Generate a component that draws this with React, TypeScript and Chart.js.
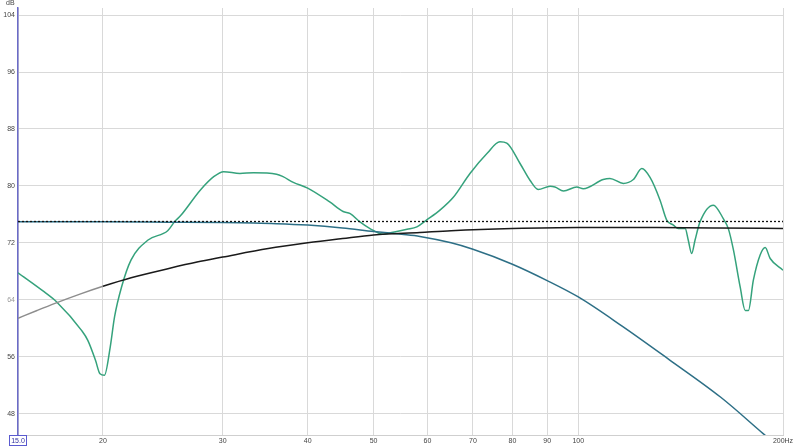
import React, { useEffect, useRef } from "react";
import { Chart, registerables } from "chart.js";

Chart.register(...registerables);

const xTicks = [15, 20, 30, 40, 50, 60, 70, 80, 90, 100, 200];
const yTicks = [48, 56, 64, 72, 80, 88, 96, 104];

const measFreq = [15, 16.4, 17.1, 18.6, 19.0, 19.5, 19.8, 20.1, 20.5, 20.8, 21.3, 22.0, 23.3, 24.9, 25.5, 26.0, 27.8, 29.1, 30.1, 31.8, 33.3, 36.0, 36.8, 38.1, 40.0, 43.1, 45.1, 46.2, 47.8, 49.4, 51.7, 53.4, 56.0, 57.9, 59.8, 62.6, 65.5, 69.3, 73.4, 76.7, 78.5, 82.1, 84.9, 87.3, 90.9, 92.4, 95.1, 99.5, 101.7, 108.8, 111.3, 116.5, 120.5, 124.0, 127.5, 131.9, 134.9, 138.0, 140.3, 143.6, 145.1, 146.8, 148.5, 151.0, 158.0, 163.4, 166.2, 169.1, 173.0, 176.0, 177.9, 180.9, 185.1, 188.3, 191.5, 200];
const measDb = [67.8, 65.1, 63.7, 59.7, 58.3, 55.5, 53.6, 53.4, 57.4, 61.6, 65.8, 69.6, 72.4, 73.7, 75.0, 75.8, 79.4, 81.3, 82.0, 81.75, 81.85, 81.65, 81.3, 80.5, 79.7, 77.75, 76.4, 76.1, 74.9, 74.0, 73.2, 73.5, 73.9, 74.25, 75.2, 76.6, 78.4, 81.75, 84.55, 86.2, 86.0, 83.15, 80.8, 79.5, 79.95, 79.85, 79.3, 79.85, 79.6, 80.9, 81.05, 80.35, 80.9, 82.45, 81.2, 78.0, 75.2, 74.5, 74.0, 74.0, 72.4, 70.5, 72.4, 74.95, 77.3, 75.4, 74.0, 71.0, 65.8, 62.5, 62.5, 66.75, 70.3, 71.35, 69.8, 68.15];

const filterFreq = [15, 20, 25, 30, 36, 40, 45, 50, 55, 58.5, 65, 70, 80, 90, 100, 116, 136, 162, 187, 200];
const filterDb = [74.95, 74.95, 74.9, 74.85, 74.7, 74.5, 74.1, 73.6, 73.2, 72.9, 72.0, 71.1, 69.0, 66.7, 64.4, 60.3, 55.6, 50.3, 45.2, 42.8];

const roomFreq = [15, 16, 17, 18.5, 20, 22, 25, 27.5, 30, 35, 40, 45, 50, 58.5, 65, 80, 100, 130, 160, 200];
const roomDb = [61.4, 62.5, 63.5, 64.8, 65.9, 67.1, 68.4, 69.3, 70.0, 71.2, 72.0, 72.6, 73.1, 73.45, 73.7, 74.0, 74.15, 74.15, 74.1, 74.0];

const targetFreq = [15, 200];
const targetDb = [75.0, 75.0];

const toPts = (xs: number[], ys: number[]) => xs.map((x, i) => ({ x, y: ys[i] }));

const FONT = "'Liberation Sans', Arial, sans-serif";

const overlayPlugin = {
  id: "overlay",
  afterDraw(chart: any) {
    const ctx = chart.ctx;
    const xs = chart.scales.x;
    ctx.save();
    ctx.font = `7px ${FONT}`;
    ctx.fillStyle = "#444";
    ctx.textAlign = "left";
    ctx.textBaseline = "top";
    ctx.fillText("dB", 6, 0);
    // box around the start frequency label
    const px = xs.getPixelForValue(15);
    ctx.strokeStyle = "#5a5ad0";
    ctx.lineWidth = 1;
    ctx.strokeRect(px - 8.5, 435.5, 17, 10);
    ctx.restore();
  },
};

export default function App() {
  const ref = useRef<HTMLCanvasElement>(null);
  useEffect(() => {
    document.body.style.margin = "0";
    const chart = new Chart(ref.current!, {
      type: "line",
      data: {
        datasets: [
          {
            data: toPts(targetFreq, targetDb),
            borderColor: "#111",
            borderWidth: 1.3,
            borderDash: [2, 2],
            pointRadius: 0,
          },
          {
            data: toPts(roomFreq, roomDb),
            borderColor: "#1a1a1a",
            borderWidth: 1.5,
            pointRadius: 0,
            cubicInterpolationMode: "monotone",
            segment: {
              borderColor: (c: any) => (c.p0.parsed.x < 19 ? "#8d8d8d" : "#1a1a1a"),
            },
          },
          {
            data: toPts(filterFreq, filterDb),
            borderColor: "#2d6f86",
            borderWidth: 1.5,
            pointRadius: 0,
            cubicInterpolationMode: "monotone",
          },
          {
            data: toPts(measFreq, measDb),
            borderColor: "#35a27c",
            borderWidth: 1.5,
            pointRadius: 0,
            cubicInterpolationMode: "monotone",
          },
        ],
      },
      options: {
        animation: false,
        responsive: false,
        maintainAspectRatio: false,
        layout: { padding: { left: 0, right: 17, top: 8, bottom: 0 } },
        plugins: { legend: { display: false }, tooltip: { enabled: false } },
        scales: {
          x: {
            type: "logarithmic",
            min: 15,
            max: 200,
            afterBuildTicks: (s: any) => {
              s.ticks = xTicks.map((v) => ({ value: v }));
            },
            afterFit: (s: any) => {
              s.height = 11;
            },
            ticks: {
              autoSkip: false,
              maxRotation: 0,
              padding: 2,
              font: { size: 7, family: FONT },
              color: (c: any) => (c.tick && c.tick.value === 15 ? "#3030a0" : "#444"),
              callback: (v: any) => (v === 15 ? "15.0" : v === 200 ? "200Hz" : String(v)),
            },
            grid: { color: "#d9d9d9", lineWidth: 1, drawTicks: false },
            border: { color: "#cfcfcf", width: 1 },
          },
          y: {
            type: "linear",
            min: 45,
            max: 105,
            afterBuildTicks: (s: any) => {
              s.ticks = yTicks.map((v) => ({ value: v }));
            },
            afterFit: (s: any) => {
              s.width = 18;
            },
            ticks: {
              padding: 3,
              font: { size: 7, family: FONT },
              color: (c: any) => (c.tick && c.tick.value === 64 ? "#999" : "#444"),
              callback: (v: any) => String(v),
            },
            grid: { color: "#d9d9d9", lineWidth: 1, drawTicks: false },
            border: { color: "#6b6bc8", width: 1.5 },
          },
        },
      },
      plugins: [overlayPlugin],
    } as any);
    return () => chart.destroy();
  }, []);
  return (
    <div style={{ position: "absolute", left: 0, top: 0, width: 800, height: 446, background: "#fff" }}>
      <canvas ref={ref} width={800} height={446} style={{ width: 800, height: 446 }} />
    </div>
  );
}
